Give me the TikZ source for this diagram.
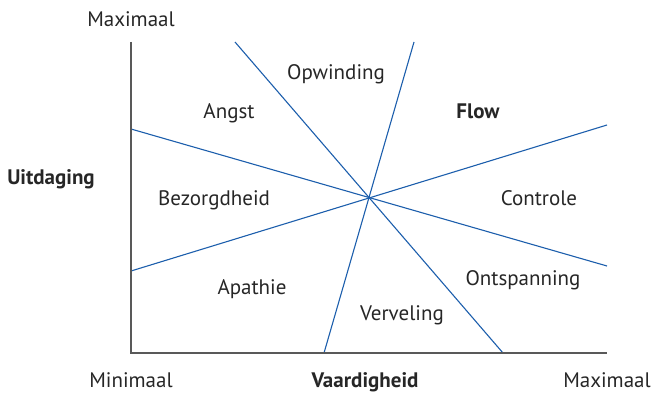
\documentclass[tikz,border=0pt]{standalone}
\usepackage{fontspec}
\setmainfont{PT Sans}
\definecolor{rayblue}{RGB}{28,94,172}
\begin{document}
\begin{tikzpicture}[x=1pt,y=-1pt,
  lbl/.style={font=\fontsize{21}{24}\selectfont, text=black!85, inner sep=0pt, anchor=base},
  bl/.style={lbl, font=\fontsize{21}{24}\selectfont\bfseries},
  axis/.style={draw=black!65, line width=1.3pt},
  ray/.style={draw=rayblue, line width=1.1pt}]
\useasboundingbox (0,0) rectangle (652,393);
\coordinate (O) at (131,353);
\coordinate (ytop) at (131,42);
\coordinate (xend) at (607,353);
\coordinate (a1) at (131,129); \coordinate (b1) at (607,266);
\coordinate (a2) at (131,271); \coordinate (b2) at (607,125);
\coordinate (a3) at (235,42);  \coordinate (b3) at (503,353);
\coordinate (a4) at (414,42);  \coordinate (b4) at (324,353);
\draw[ray] (a1) -- (b1);
\draw[ray] (a2) -- (b2);
\draw[ray] (a3) -- (b3);
\draw[ray] (a4) -- (b4);
\draw[axis] (ytop) -- (O) -- (xend);
\node[lbl] (maxy) at (131,27) {Maximaal};
\node[lbl] (opw) at (336,80) {Opwinding};
\node[lbl] (angst) at (229,118) {Angst};
\node[bl] (flow) at (478,118) {Flow};
\node[bl] (uit) at (51,184) {Uitdaging};
\node[lbl] (bez) at (214,205) {Bezorgdheid};
\node[lbl] (con) at (539,205) {Controle};
\node[lbl] (apa) at (252,294) {Apathie};
\node[lbl] (ont) at (523,285) {Ontspanning};
\node[lbl] (ver) at (402,320) {Verveling};
\node[lbl] (min) at (131,387) {Minimaal};
\node[bl] (vaa) at (365,387) {Vaardigheid};
\node[lbl] (maxx) at (607,387) {Maximaal};
\end{tikzpicture}
\end{document}
